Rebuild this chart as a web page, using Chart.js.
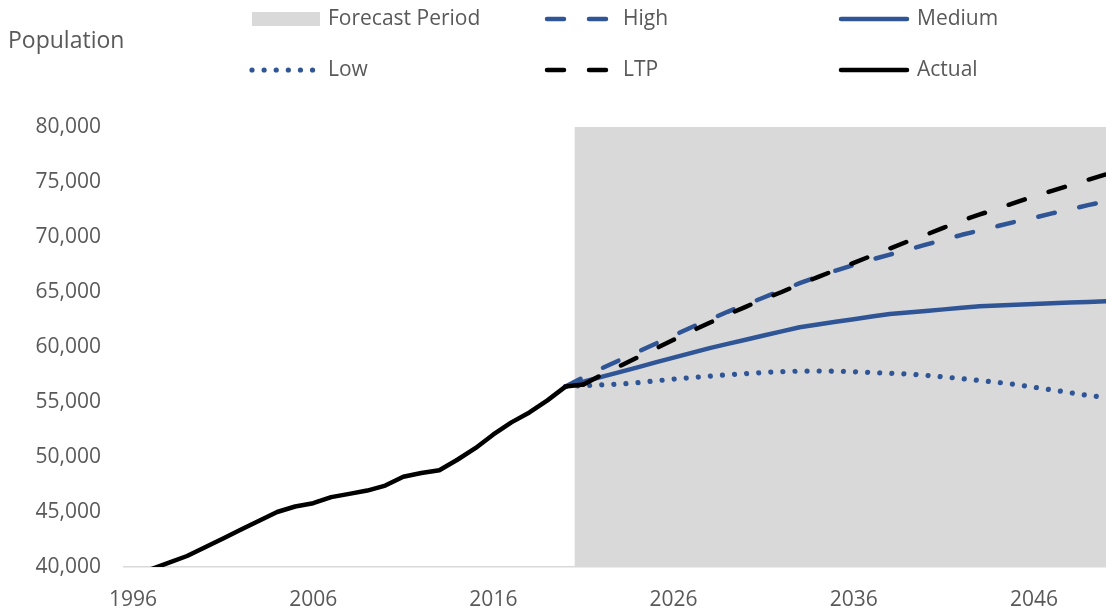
<!DOCTYPE html>
<html>
<head>
<meta charset="utf-8">
<script src="https://cdn.jsdelivr.net/npm/chart.js@4.4.1/dist/chart.umd.min.js"></script>
<style>
  html, body { margin: 0; padding: 0; background: #fff; }
</style>
</head>
<body>
<canvas id="canvas" width="1106" height="610"></canvas>
<script>
// years on the x axis
var actualYears = [1996, 1997, 1998, 1999, 2000, 2001, 2002, 2003, 2004, 2005, 2006, 2007, 2008,
                   2009, 2010, 2011, 2012, 2013, 2014, 2015, 2016, 2017, 2018, 2019, 2020, 2021];
var projYears = [2020, 2021, 2022, 2023, 2024, 2025, 2026, 2027, 2028, 2029, 2030, 2031, 2032,
                 2033, 2034, 2035, 2036, 2037, 2038, 2039, 2040, 2041, 2042, 2043, 2044, 2045,
                 2046, 2047, 2048, 2049, 2050];
var ltpYears = [2021, 2022, 2023, 2024, 2025, 2026, 2027, 2028, 2029, 2030, 2031, 2032, 2033,
                2034, 2035, 2036, 2037, 2038, 2039, 2040, 2041, 2042, 2043, 2044, 2045, 2046,
                2047, 2048, 2049, 2050];
var xTickYears = [1996, 2006, 2016, 2026, 2036, 2046];

// population values
var actual = [39300, 39800, 40400, 41000, 41800, 42600, 43400, 44200, 45000, 45500, 45800, 46350, 46650,
              46950, 47400, 48200, 48550, 48800, 49750, 50800, 52050, 53150, 54050, 55150, 56400, 56600];
var high = [56400, 57250, 58050, 58800, 59550, 60300, 61050, 61800, 62500, 63200, 63850, 64500, 65150,
            65800, 66400, 66950, 67450, 67950, 68400, 68850, 69300, 69750, 70200, 70600, 71000, 71400,
            71750, 72150, 72500, 72900, 73250];
var medium = [56400, 56850, 57280, 57720, 58150, 58600, 59030, 59470, 59900, 60280, 60660, 61040, 61420,
              61800, 62050, 62290, 62530, 62770, 63000, 63140, 63280, 63420, 63560, 63700, 63770, 63840,
              63910, 63980, 64040, 64100, 64150];
var low = [56400, 56500, 56550, 56620, 56750, 56920, 57080, 57220, 57350, 57470, 57580, 57680, 57760,
           57810, 57820, 57800, 57750, 57680, 57620, 57540, 57420, 57280, 57120, 56950, 56780, 56580,
           56350, 56100, 55850, 55600, 55400];
var ltp = [56600, 57450, 58250, 59050, 59850, 60650, 61450, 62200, 62950, 63650, 64350, 65000, 65700,
           66350, 67000, 67650, 68300, 68950, 69600, 70200, 70850, 71500, 72050, 72600, 73150, 73700,
           74200, 74700, 75200, 75700];
var forecastSpan = [2020.5, 2050];
var axisTop = 80000;

var legendOrder = ['Forecast Period', 'High', 'Medium', 'Low', 'LTP', 'Actual'];

var BLUE = '#2F5597';
var GREY_TEXT = '#595959';

function pts(xs, ys) {
    return xs.map(function(x, i) { return { x: x, y: ys[i] }; });
}

Chart.defaults.font.family = "'Open Sans', sans-serif";
Chart.defaults.font.size = 21;
Chart.defaults.color = GREY_TEXT;

var legendPlugin = {
    id: 'gridLegend',
    afterDraw: function(chart) {
        var ctx = chart.ctx;
        var cols = [250, 545, 839];
        var rows = [19, 70];
        ctx.save();
        ctx.textBaseline = 'middle';
        ctx.fillStyle = GREY_TEXT;
        ctx.font = "23px 'Open Sans', sans-serif";
        ctx.fillText('Population', 8, 41);
        ctx.font = "21px 'Open Sans', sans-serif";
        legendOrder.forEach(function(label, i) {
            var ds = chart.data.datasets.find(function(d) { return d.label === label; });
            var x = cols[i % 3];
            var y = rows[Math.floor(i / 3)];
            if (ds.fill) {
                ctx.fillStyle = ds.backgroundColor;
                ctx.fillRect(x + 2, y - 7, 68, 14);
            } else {
                ctx.strokeStyle = ds.borderColor;
                ctx.lineWidth = ds.borderWidth;
                ctx.lineCap = 'round';
                ctx.setLineDash(ds.borderDash || []);
                ctx.beginPath();
                ctx.moveTo(x + 2, y);
                ctx.lineTo(x + 68, y);
                ctx.stroke();
                ctx.setLineDash([]);
            }
            ctx.fillStyle = GREY_TEXT;
            ctx.fillText(label, x + 78, y);
        });
        ctx.restore();
    }
};

var config = {
    type: 'line',
    data: {
        datasets: [{
                label: 'Actual',
                data: pts(actualYears, actual),
                borderColor: '#000000',
                borderWidth: 4.5,
                order: 0
            },
            {
                label: 'LTP',
                data: pts(ltpYears, ltp),
                borderColor: '#000000',
                borderWidth: 4.5,
                borderDash: [17, 25],
                order: 1
            },
            {
                label: 'High',
                data: pts(projYears, high),
                borderColor: BLUE,
                borderWidth: 4.5,
                borderDash: [17, 25],
                order: 2
            },
            {
                label: 'Medium',
                data: pts(projYears, medium),
                borderColor: BLUE,
                borderWidth: 4.5,
                order: 3
            },
            {
                label: 'Low',
                data: pts(projYears, low),
                borderColor: BLUE,
                borderWidth: 5.2,
                borderDash: [0.01, 12.1],
                order: 4
            },
            {
                label: 'Forecast Period',
                data: pts(forecastSpan, [axisTop, axisTop]),
                borderWidth: 0,
                borderColor: 'rgba(0,0,0,0)',
                backgroundColor: '#D9D9D9',
                fill: 'start',
                order: 5
            }
        ]
    },
    options: {
        responsive: false,
        animation: false,
        devicePixelRatio: 1,
        layout: { padding: { top: 127, left: 0, right: 0, bottom: 0 } },
        elements: {
            point: { radius: 0, hoverRadius: 0 },
            line: { tension: 0, borderCapStyle: 'round', borderJoinStyle: 'round', fill: false }
        },
        datasets: { line: { clip: 0 } },
        plugins: {
            legend: { display: false },
            tooltip: { enabled: false }
        },
        scales: {
            x: {
                type: 'linear',
                min: 1995.5,
                max: 2050,
                grid: { display: false, drawTicks: false },
                border: { display: true, color: '#D9D9D9', width: 1.5 },
                ticks: {
                    padding: 20,
                    maxRotation: 0,
                    callback: function(v) { return String(v); }
                },
                afterBuildTicks: function(scale) {
                    scale.ticks = xTickYears.map(function(v) { return { value: v }; });
                },
                afterFit: function(scale) { scale.height = 43; }
            },
            y: {
                min: 40000,
                max: 80000,
                grid: { display: false, drawTicks: false },
                border: { display: false },
                ticks: {
                    stepSize: 5000,
                    padding: 23,
                    callback: function(v) { return v.toLocaleString('en-US'); }
                },
                afterFit: function(scale) { scale.width = 124; }
            }
        }
    },
    plugins: [legendPlugin]
};

var ctx = document.getElementById('canvas').getContext('2d');
window.PopChart = new Chart(ctx, config);
</script>
</body>
</html>
